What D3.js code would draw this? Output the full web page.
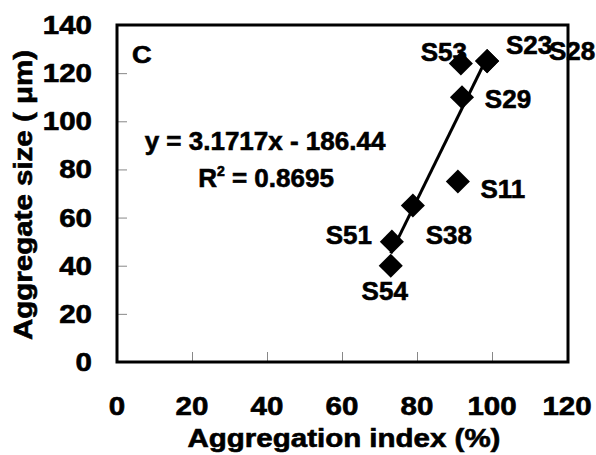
<!DOCTYPE html>
<html>
  <head>
    <script src="https://d3js.org/d3.v7.min.js"></script>
    <title>Aggregate size vs aggregation index</title>
    <style>
      body { margin: 0; background: #fff; }
      text { font-family: "Liberation Sans", Arial, sans-serif; font-weight: bold; fill: #000;
             stroke: #000; stroke-width: 0.6px; }
    </style>
  </head>
  <body>
    <div id="container"></div>
    <script>
    // data
    var sampleNames = ['S53', 'S23', 'S28', 'S29', 'S11', 'S38', 'S51', 'S54'];
    var aggIndex    = [91.7, 98.7, 98.7, 92, 90.9, 78.9, 73.3, 73];
    var aggSize     = [124, 125, 125, 110, 75, 65, 50, 40];
    var xTicks = [0, 20, 40, 60, 80, 100, 120];
    var yTicks = [0, 20, 40, 60, 80, 100, 120, 140];
    var fitSlope = 3.1717, fitIntercept = -186.44;
    var fitRange = [73, 98.7];
    var eqText = 'y = 3.1717x - 186.44';
    var r2Value = '0.8695';

    // where each name label sits, relative to its point (px)
    var labelOffset = {
      S53: [-17, -13], S23: [42, -17], S28: [85, -11], S29: [46, 1],
      S11: [45, 7], S38: [36, 28], S51: [-43, -8], S54: [-6, 24]
    };

    const w = 596, h = 455;
    const padL = 117, padR = 567, padT = 25, padB = 362;
    const stretch = 1.18;

    const svg = d3.select('#container').append('svg')
      .attr('width', w).attr('height', h);

    const x = d3.scaleLinear().domain([0, 120]).range([padL, padR]);
    const y = d3.scaleLinear().domain([0, 140]).range([padB, padT]);

    // inner tick marks
    const xAxis = d3.axisTop(x).tickValues(xTicks.slice(1, -1)).tickSize(10).tickFormat('');
    const yAxis = d3.axisRight(y).tickValues(yTicks.slice(1, -1)).tickSize(10).tickFormat('');
    svg.append('g').attr('transform', `translate(0,${padB})`).call(xAxis)
      .call(g => g.select('.domain').remove())
      .selectAll('line').attr('stroke', '#888').attr('stroke-width', 1);
    svg.append('g').attr('transform', `translate(${padL},0)`).call(yAxis)
      .call(g => g.select('.domain').remove())
      .selectAll('line').attr('stroke', '#888').attr('stroke-width', 1);

    // frame
    svg.append('rect')
      .attr('x', padL).attr('y', padT)
      .attr('width', padR - padL + 1).attr('height', padB - padT)
      .attr('fill', 'none').attr('stroke', '#000').attr('stroke-width', 3);

    // tick labels
    svg.selectAll('.xl').data(xTicks).enter().append('text')
      .attr('class', 'xl')
      .attr('transform', d => `translate(${x(d)},415) scale(${stretch},1)`)
      .attr('text-anchor', 'middle')
      .style('font-size', '25px')
      .text(d => d);
    svg.selectAll('.yl').data(yTicks).enter().append('text')
      .attr('class', 'yl')
      .attr('transform', d => `translate(92,${y(d) + 9}) scale(${stretch},1)`)
      .attr('text-anchor', 'end')
      .style('font-size', '25px')
      .text(d => d);

    // axis titles
    svg.append('text')
      .attr('transform', `translate(344,447) scale(${stretch},1)`)
      .attr('text-anchor', 'middle')
      .style('font-size', '25px')
      .text('Aggregation index (%)');
    svg.append('text')
      .attr('transform', `translate(32,195) rotate(-90) scale(${stretch},1)`)
      .attr('text-anchor', 'middle')
      .style('font-size', '25px')
      .text('Aggregate size ( \u03bcm)');

    // panel letter
    svg.append('text')
      .attr('transform', `translate(132,63) scale(${stretch},1)`)
      .style('font-size', '23px')
      .text('C');

    // regression line
    svg.append('line')
      .attr('x1', x(fitRange[0])).attr('y1', y(fitSlope * fitRange[0] + fitIntercept))
      .attr('x2', x(fitRange[1])).attr('y2', y(fitSlope * fitRange[1] + fitIntercept))
      .attr('stroke', '#000').attr('stroke-width', 3);

    // diamonds
    const diamond = d3.symbol().type(d3.symbolSquare).size(290);
    svg.selectAll('.pt').data(sampleNames).enter().append('path')
      .attr('class', 'pt')
      .attr('d', diamond)
      .attr('transform', (d, i) => `translate(${x(aggIndex[i])},${y(aggSize[i])}) rotate(45)`)
      .attr('fill', '#000');

    // point labels
    svg.selectAll('.nm').data(sampleNames).enter().append('text')
      .attr('class', 'nm')
      .attr('x', (d, i) => x(aggIndex[i]) + labelOffset[d][0])
      .attr('y', (d, i) => y(aggSize[i]) + labelOffset[d][1] + 10)
      .attr('text-anchor', 'middle')
      .style('font-size', '26px')
      .text(d => d);

    // equation
    svg.append('text')
      .attr('x', 265).attr('y', 150)
      .attr('text-anchor', 'middle')
      .style('font-size', '26px')
      .text(eqText);
    const r2 = svg.append('text')
      .attr('x', 266).attr('y', 187)
      .attr('text-anchor', 'middle')
      .style('font-size', '26px');
    r2.append('tspan').text('R');
    r2.append('tspan').attr('dy', -11).style('font-size', '14px').text('2');
    r2.append('tspan').attr('dy', 11).text(' = ' + r2Value);
    </script>
  </body>
</html>
